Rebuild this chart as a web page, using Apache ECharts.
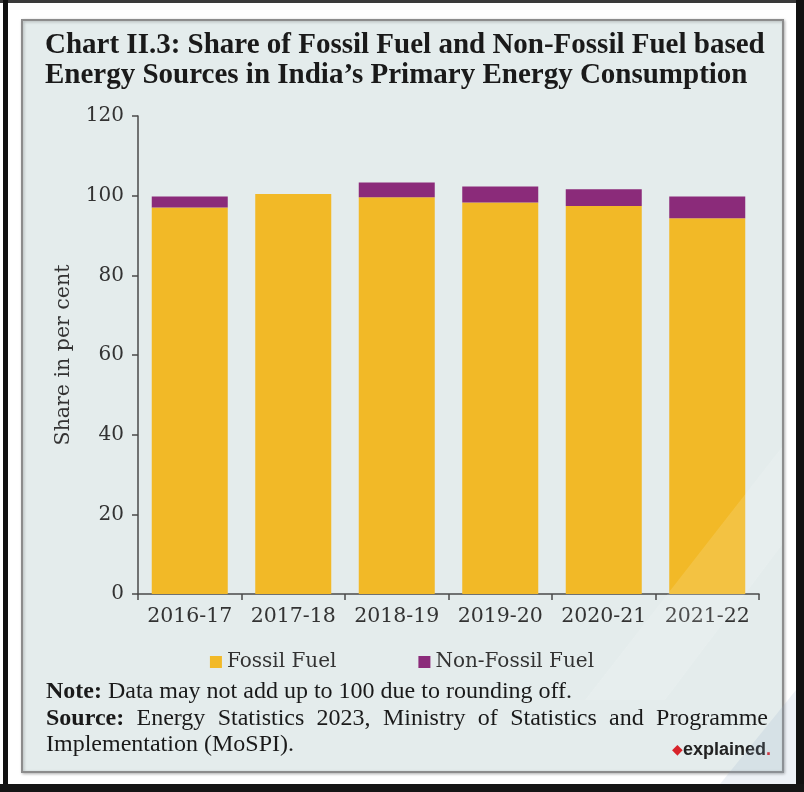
<!DOCTYPE html>
<html>
<head>
<meta charset="utf-8">
<script src="https://cdn.jsdelivr.net/npm/echarts@6/dist/echarts.min.js"></script>
<style>
  html, body { margin: 0; padding: 0; background: #ffffff; }
  #chart { width: 804px; height: 792px; }
</style>
</head>
<body>
<div id="chart"></div>
<script>
// Share of primary energy consumption, per cent
const years = ['2016-17', '2017-18', '2018-19', '2019-20', '2020-21', '2021-22'];
const fossilFuel = [97.0, 100.4, 99.6, 98.3, 97.4, 94.3];
const nonFossilFuel = [2.8, -0.5, 3.7, 4.0, 4.2, 5.5];
const yTicks = [0, 20, 40, 60, 80, 100, 120];

const titleLines = [
  'Chart II.3: Share of Fossil Fuel and Non-Fossil Fuel based',
  'Energy Sources in India\u2019s Primary Energy Consumption'
];
const noteText = 'Data may not add up to 100 due to rounding off.';
const sourceWords = ['Energy', 'Statistics', '2023,', 'Ministry', 'of', 'Statistics', 'and', 'Programme'];
const sourceTail = 'Implementation (MoSPI).';

const SERIF = '"DejaVu Serif", "Liberation Serif", serif';
const BODY = '"Liberation Serif", "DejaVu Serif", serif';
const AXIS = '#4a4a4a';
const INK = '#1a1a1a';

const NOTE_FONT = '24px ' + BODY;
const NOTE_BOLD = 'bold 24px ' + BODY;
const TEXT_LEFT = 46, TEXT_RIGHT = 768;

// Lay out the justified "Source:" line word by word
function justifiedLine(y) {
  const ctx = document.createElement('canvas').getContext('2d');
  const items = [{ text: 'Source:', font: NOTE_BOLD }].concat(
    sourceWords.map(w => ({ text: w, font: NOTE_FONT })));
  let total = 0;
  items.forEach(it => { ctx.font = it.font; it.w = ctx.measureText(it.text).width; total += it.w; });
  const gap = (TEXT_RIGHT - TEXT_LEFT - total) / (items.length - 1);
  let x = TEXT_LEFT;
  return items.map(it => {
    const el = { type: 'text', x: x, y: y, z: 5,
      style: { text: it.text, font: it.font, fill: INK, textVerticalAlign: 'middle' } };
    x += it.w + gap;
    return el;
  });
}

const chart = echarts.init(document.getElementById('chart'), null, { renderer: 'canvas' });

chart.setOption({
  backgroundColor: '#ffffff',
  animation: false,
  graphic: [
    // dark outer edges
    { type: 'rect', shape: { x: 0, y: 0, width: 804, height: 3 }, style: { fill: '#3a3a3a' }, z: 0 },
    { type: 'rect', shape: { x: 3, y: 0, width: 5, height: 792 }, style: { fill: '#111111' }, z: 0 },
    { type: 'rect', shape: { x: 796, y: 0, width: 8, height: 792 }, style: { fill: '#111111' }, z: 0 },
    { type: 'rect', shape: { x: 0, y: 784, width: 804, height: 8 }, style: { fill: '#151515' }, z: 0 },
    // panel
    { type: 'rect', shape: { x: 22, y: 20, width: 761, height: 752 },
      style: { fill: '#e4ecec', stroke: '#8c8c8c', lineWidth: 2,
               shadowColor: 'rgba(0,0,0,0.25)', shadowBlur: 3, shadowOffsetX: 1, shadowOffsetY: 1 }, z: 0 },
    // title
    { type: 'text', left: 45, top: 31, z: 5,
      style: { text: titleLines.join('\n'), font: 'bold 29px ' + BODY, fill: INK, lineHeight: 30 } },
    // notes
    { type: 'text', x: TEXT_LEFT, y: 692, z: 5,
      style: { text: '{b|Note:} ' + noteText, font: NOTE_FONT, fill: INK, textVerticalAlign: 'middle',
        rich: { b: { font: NOTE_BOLD, fill: INK } } } },
    ...justifiedLine(719),
    { type: 'text', x: TEXT_LEFT, y: 745, z: 5,
      style: { text: sourceTail, font: NOTE_FONT, fill: INK, textVerticalAlign: 'middle' } },
    // publisher mark
    { type: 'text', right: 33, top: 741, z: 5,
      style: { text: '{d|\u25C6}{t|explained}{r|.}',
        rich: {
          d: { font: '14px sans-serif', fill: '#d8232a' },
          t: { font: 'bold 18px "Liberation Sans Narrow", "Liberation Sans", sans-serif', fill: '#222' },
          r: { font: 'bold 18px "Liberation Sans", sans-serif', fill: '#d8232a' }
        } } },
    // faint light sheen across the lower right of the panel
    { type: 'polygon', z: 20, silent: true,
      shape: { points: [[585, 700], [782, 447], [782, 545], [665, 700]] },
      style: { fill: 'rgba(255,255,255,0.13)' } },
    { type: 'polygon', z: 20, silent: true,
      shape: { points: [[720, 784], [796, 690], [796, 784]] },
      style: { fill: 'rgba(140,165,200,0.16)' } }
  ],
  grid: { left: 138, right: 45, top: 116, bottom: 198, containLabel: false },
  legend: {
    top: 647, left: 'center',
    itemWidth: 12, itemHeight: 12, itemGap: 82,
    icon: 'rect',
    textStyle: { fontFamily: SERIF, fontSize: 20, color: '#333' },
    data: ['Fossil Fuel', 'Non-Fossil Fuel']
  },
  xAxis: {
    type: 'category',
    data: years,
    axisLine: { lineStyle: { color: AXIS, width: 1.5 } },
    axisTick: { show: true, length: 6, lineStyle: { color: AXIS, width: 1.5 } },
    axisLabel: { fontFamily: SERIF, fontSize: 20.5, color: '#333', margin: 12, interval: 0 }
  },
  yAxis: {
    type: 'value',
    min: 0, max: 120, interval: 20,
    name: 'Share in per cent',
    nameLocation: 'middle',
    nameGap: 64,
    nameTextStyle: { fontFamily: SERIF, fontSize: 20.5, color: '#333' },
    axisLine: { show: true, lineStyle: { color: AXIS, width: 1.5 } },
    axisTick: { show: true, length: 6, lineStyle: { color: AXIS, width: 1.5 } },
    axisLabel: { fontFamily: SERIF, fontSize: 20, color: '#333', margin: 14,
      formatter: v => (yTicks.indexOf(v) >= 0 ? String(v) : '') },
    splitLine: { show: false }
  },
  series: [
    { name: 'Fossil Fuel', type: 'bar', stack: 'share', data: fossilFuel, barWidth: 76,
      itemStyle: { color: '#f2b927' } },
    { name: 'Non-Fossil Fuel', type: 'bar', stack: 'share', data: nonFossilFuel, barWidth: 76,
      itemStyle: { color: '#8b2b7a' } }
  ]
});
</script>
</body>
</html>
